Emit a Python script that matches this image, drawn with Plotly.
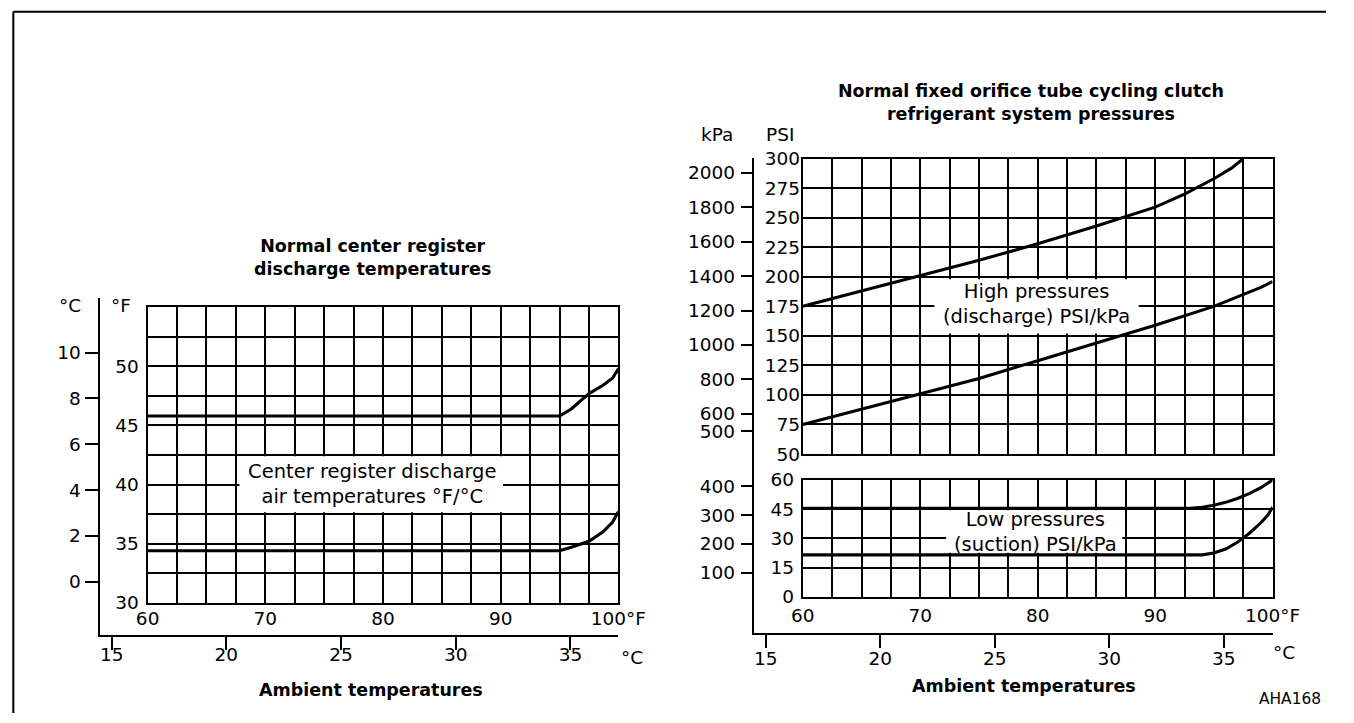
import plotly.graph_objects as go

W, H = 1354, 723
# The photographed page shows the figure inset by ~10 px and shrunk by ~723/743;
# positions below are given in reference-picture pixels and mapped to figure pixels.
OFF, S = 10.0, 723.0 / 743.0
def p(P): return (P - OFF) / S
def fx(P): return min(max(p(P) / W, 0.0), 1.0)
def fy(P): return min(max(1 - p(P) / H, 0.0), 1.0)
def fs(v): return v / S

FONT = "DejaVu Sans"

# ---------------- data ----------------
# Left chart: centre register discharge temperature (°F) vs ambient (°F)
amb_left = [60, 70, 80, 90, 95, 96, 97.5, 98.7, 99.5, 100]
discharge_upper = [45.8, 45.8, 45.8, 45.8, 45.8, 46.4, 47.7, 48.4, 49.0, 49.8]
discharge_lower = [34.4, 34.4, 34.4, 34.4, 34.4, 34.7, 35.2, 36.0, 36.8, 37.7]

# Right chart: high side (discharge) pressures, PSI
amb_high = [60, 65, 70, 75, 80, 85, 90, 92.5, 95, 96.5, 97.5]
high_upper = [175, 188, 201, 214, 228, 243, 259, 270, 283, 292, 300]
amb_high2 = [60, 65, 70, 75, 80, 85, 90, 95, 97.5, 99, 100]
high_lower = [75, 88, 101, 114, 129, 144, 159, 175, 185, 191, 196]

# Right chart: low side (suction) pressures, PSI
amb_low = [60, 80, 93, 94, 95, 96, 97, 98, 99, 100]
low_upper = [45.5, 45.5, 45.5, 46.0, 47.0, 48.5, 50.5, 53.0, 56.0, 60.0]
amb_low2 = [60, 80, 94, 95, 96, 97, 98, 99, 99.6, 100]
low_lower = [21.5, 21.5, 21.5, 22.5, 24.5, 28.0, 32.5, 38.0, 42.0, 46.0]

# Tick labels
f_ticks = [60, 70, 80, 90, 100]
f_ticktext = ["60", "70", "80", "90", "100°F"]
c_ticks_amb = [15, 20, 25, 30, 35]
left_f_ticks = [30, 35, 40, 45, 50]
left_c_ticks = [0, 2, 4, 6, 8, 10]
psi_high_ticks = [50, 75, 100, 125, 150, 175, 200, 225, 250, 275, 300]
psi_low_ticks = [0, 15, 30, 45, 60]
kpa_high_ticks = [500, 600, 800, 1000, 1200, 1400, 1600, 1800, 2000]
kpa_low_ticks = [100, 200, 300, 400]

fig = go.Figure()
line = dict(color="black", width=fs(3))
fig.add_trace(go.Scatter(x=amb_left, y=discharge_upper, mode="lines", line=line, xaxis="x", yaxis="y"))
fig.add_trace(go.Scatter(x=amb_left, y=discharge_lower, mode="lines", line=line, xaxis="x", yaxis="y"))
fig.add_trace(go.Scatter(x=amb_high, y=high_upper, mode="lines", line=line, xaxis="x3", yaxis="y3"))
fig.add_trace(go.Scatter(x=amb_high2, y=high_lower, mode="lines", line=line, xaxis="x3", yaxis="y3"))
fig.add_trace(go.Scatter(x=amb_low, y=low_upper, mode="lines", line=line, xaxis="x4", yaxis="y4"))
fig.add_trace(go.Scatter(x=amb_low2, y=low_lower, mode="lines", line=line, xaxis="x4", yaxis="y4"))
# helper traces so that auxiliary axes are drawn
for xa, ya in [("x2", "y2"), ("x5", "y5"), ("x5", "y6"), ("x5", "y7")]:
    fig.add_trace(go.Scatter(x=[None], y=[None], mode="lines", xaxis=xa, yaxis=ya, hoverinfo="skip"))

tickfont = dict(family=FONT, size=fs(18), color="black")
GW = fs(2)

def grid_axis(domain, rng, tickvals, ticktext=None, minor_dtick=None, minor_tick0=None,
              showlabels=True, anchor=None, standoff=0):
    d = dict(domain=domain, range=rng, tickmode="array", tickvals=tickvals,
             showgrid=True, gridcolor="black", gridwidth=GW,
             showline=True, mirror=True, linecolor="black", linewidth=GW,
             ticks="", zeroline=False, showticklabels=showlabels, tickfont=tickfont,
             fixedrange=True, anchor=anchor, ticklabelstandoff=standoff)
    if ticktext is not None:
        d["ticktext"] = ticktext
    if minor_dtick is not None:
        d["minor"] = dict(tickmode="linear", tick0=minor_tick0, dtick=minor_dtick,
                          showgrid=True, gridcolor="black", gridwidth=GW, ticks="")
    return d

def scale_axis(domain, rng, tickvals, anchor, showline=True, standoff=0, ticklen=12):
    return dict(domain=domain, range=rng, tickmode="array", tickvals=tickvals,
                showgrid=False, zeroline=False, showline=showline, linecolor="black", linewidth=GW,
                ticks="outside" if tickvals else "", ticklen=fs(ticklen), tickwidth=GW,
                tickcolor="black", tickfont=tickfont, anchor=anchor, fixedrange=True,
                showticklabels=bool(tickvals), ticklabelstandoff=standoff)

layout = dict(
    width=W, height=H, margin=dict(l=0, r=0, t=0, b=0),
    paper_bgcolor="white", plot_bgcolor="rgba(0,0,0,0)", showlegend=False,
    font=dict(family=FONT, size=fs(18), color="black"),
    # left chart grid
    xaxis=grid_axis([fx(146), fx(618)], [60, 100], f_ticks, f_ticktext, 2.5, 60, anchor="y", standoff=-2),
    yaxis=grid_axis([fy(603), fy(307)], [30, 55], left_f_ticks, None, 2.5, 30, anchor="x", standoff=3),
    # left chart °C scales
    xaxis2=scale_axis([fx(98), fx(618)], [14.48, 37.09], c_ticks_amb, "y2", standoff=-11, ticklen=13),
    yaxis2=scale_axis([fy(635), fy(298)], [-2.31, 12.37], left_c_ticks, "x2", standoff=1),
    # right chart high pressure grid
    xaxis3=grid_axis([fx(803), fx(1274)], [60, 100], f_ticks, None, 2.5, 60, showlabels=False, anchor="y3"),
    yaxis3=grid_axis([fy(454), fy(158)], [50, 300], psi_high_ticks, None, None, None, anchor="x3", standoff=-3),
    # right chart low pressure grid
    xaxis4=grid_axis([fx(803), fx(1274)], [60, 100], f_ticks, f_ticktext, 2.5, 60, anchor="y4", standoff=1),
    yaxis4=grid_axis([fy(597), fy(480)], [0, 60], psi_low_ticks, None, None, None, anchor="x4", standoff=3),
    # right chart °C / kPa scales
    xaxis5=scale_axis([fx(754), fx(1274)], [14.49, 37.13], c_ticks_amb, "y5", standoff=-5, ticklen=13),
    yaxis5=scale_axis([fy(633), fy(157)], [0, 1], [], "x5"),
    yaxis6=scale_axis([fy(454), fy(158)], [366.7, 2082], kpa_high_ticks, "x5", showline=False, standoff=2),
    yaxis7=scale_axis([fy(597), fy(480)], [17.3, 422], kpa_low_ticks, "x5", showline=False, standoff=2),
)
fig.update_layout(**layout)

# white label panels that interrupt the grid (drawn between grid and curves)
for xr, yr, x0, x1, y0, y1 in [("x", "y", 67.8, 90.2, 37.65, 42.4),
                                ("x3", "y3", 71.2, 88.6, 152, 198),
                                ("x4", "y4", 72.2, 87.2, 22.6, 44.4)]:
    fig.add_shape(type="rect", xref=xr, yref=yr, x0=x0, x1=x1, y0=y0, y1=y1,
                  fillcolor="white", line=dict(width=0), layer="between")

def ann(text, x, y, size=18, bold=False, xanchor="center", yanchor="middle"):
    t = f"<b>{text}</b>" if bold else text
    fig.add_annotation(text=t, x=fx(x), y=fy(y),
                       xref="paper", yref="paper", showarrow=False,
                       font=dict(family=FONT, size=fs(size), color="black"), align="center",
                       xanchor=xanchor, yanchor=yanchor)

ann("Normal center register<br>discharge temperatures", 371, 257, 17, bold=True)
ann("Normal fixed orifice tube cycling clutch<br>refrigerant system pressures", 1032, 102, 17, bold=True)
ann("°C", 68, 305)
ann("°F", 119, 305)
ann("kPa", 717, 134)
ann("PSI", 780, 134)
ann("°C", 632, 658)
ann("°C", 1285, 653)
ann("Ambient temperatures", 370, 690, 17, bold=True)
ann("Ambient temperatures", 1025, 686, 17, bold=True)
ann("Center register discharge<br>air temperatures °F/°C", 371, 484, 19)
ann("High pressures<br>(discharge) PSI/kPa", 1037, 304, 19)
ann("Low pressures<br>(suction) PSI/kPa", 1036, 532, 19)
fig.add_annotation(text="AHA168", x=0.998, y=fy(711), xref="paper", yref="paper", showarrow=False,
                   font=dict(family=FONT, size=fs(15), color="black"), xanchor="right", yanchor="bottom")

# page frame of the scanned figure
fig.add_shape(type="line", xref="paper", yref="paper", x0=0.001, x1=1, y0=0.999, y1=0.999,
              line=dict(color="black", width=GW))
fig.add_shape(type="line", xref="paper", yref="paper", x0=0.001, x1=0.001, y0=0.999, y1=0,
              line=dict(color="black", width=GW))

fig.write_html(
    "out.html",
    config={"displayModeBar": False},
    post_script=(
        "for (const el of [document.documentElement, document.body]) {"
        " el.style.margin='0'; el.style.padding='0'; el.style.overflow='hidden'; }"
    ),
)
